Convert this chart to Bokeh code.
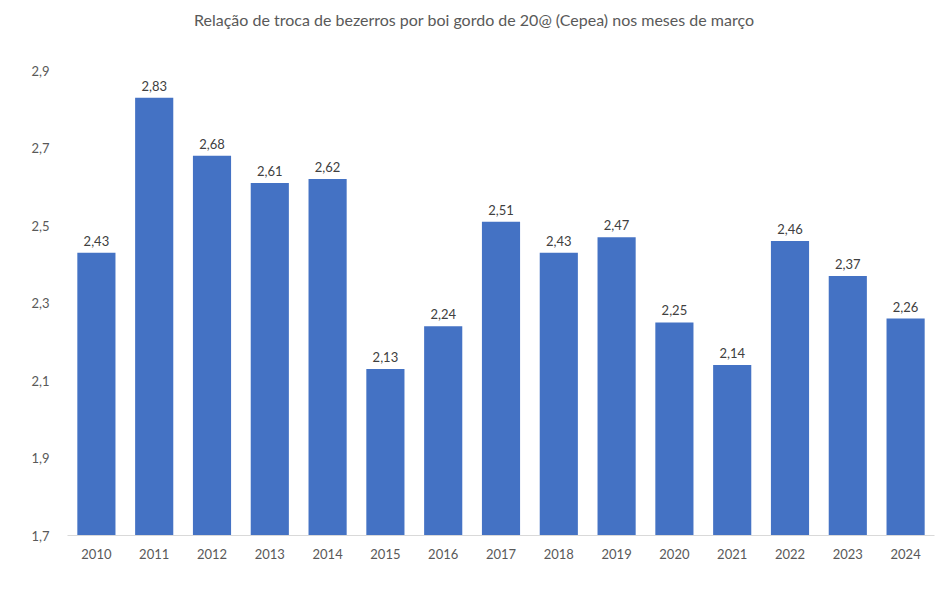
from bokeh.plotting import figure
from bokeh.models import ColumnDataSource, FactorRange, Range1d, FixedTicker, LabelSet, Div
from bokeh.layouts import column
from bokeh.core.properties import value
from bokeh.embed import file_html
from bokeh.resources import INLINE

years = ["2010", "2011", "2012", "2013", "2014", "2015", "2016", "2017",
         "2018", "2019", "2020", "2021", "2022", "2023", "2024"]
values = [2.43, 2.83, 2.68, 2.61, 2.62, 2.13, 2.24, 2.51,
          2.43, 2.47, 2.25, 2.14, 2.46, 2.37, 2.26]
y_ticks = [1.7, 1.9, 2.1, 2.3, 2.5, 2.7, 2.9]
y_tick_labels = ["1,7", "1,9", "2,1", "2,3", "2,5", "2,7", "2,9"]
title_text = "Relação de troca de bezerros por boi gordo de 20@ (Cepea) nos meses de março"

FONT = "Lato"
src = ColumnDataSource(dict(
    x=years, top=values,
    label=[f"{v:.2f}".replace(".", ",") for v in values],
))

title = Div(text=title_text, width=948, height=40, margin=0,
            styles={"text-align": "center", "font-family": FONT, "font-size": "16px",
                    "color": "#595959", "line-height": "40px", "width": "948px"})

p = figure(width=948, height=549, x_range=FactorRange(*years, range_padding=0),
           y_range=Range1d(1.7, 2.9), output_backend="svg", toolbar_location=None,
           min_border_left=67, min_border_right=14, min_border_top=30,
           min_border_bottom=54, margin=0)

p.vbar(x="x", top="top", bottom=1.7, width=0.66, source=src,
       fill_color="#4472C4", line_color=None)

labels = LabelSet(x="x", y="top", text="label", source=src, text_align="center",
                  text_baseline="bottom", y_offset=7, text_font=value(FONT),
                  text_font_size="13px", text_color="#404040")
p.add_layout(labels)

p.outline_line_color = None
p.xgrid.grid_line_color = None
p.ygrid.grid_line_color = None

p.yaxis.ticker = FixedTicker(ticks=y_ticks)
p.yaxis.major_label_overrides = {t: l for t, l in zip(y_ticks, y_tick_labels)}
p.yaxis.axis_line_color = None
p.yaxis.major_tick_line_color = None
p.yaxis.minor_tick_line_color = None
p.yaxis.major_label_text_font = FONT
p.yaxis.major_label_text_font_size = "13px"
p.yaxis.major_label_text_color = "#595959"
p.yaxis.major_label_standoff = 12

p.xaxis.axis_line_color = "#D9D9D9"
p.xaxis.axis_line_width = 1
p.xaxis.major_tick_line_color = None
p.xaxis.minor_tick_line_color = None
p.xaxis.major_label_text_font = FONT
p.xaxis.major_label_text_font_size = "13px"
p.xaxis.major_label_text_color = "#595959"
p.xaxis.major_label_standoff = 7

layout = column(title, p, spacing=0, margin=0)
open("out.html", "w").write(file_html(layout, INLINE))
